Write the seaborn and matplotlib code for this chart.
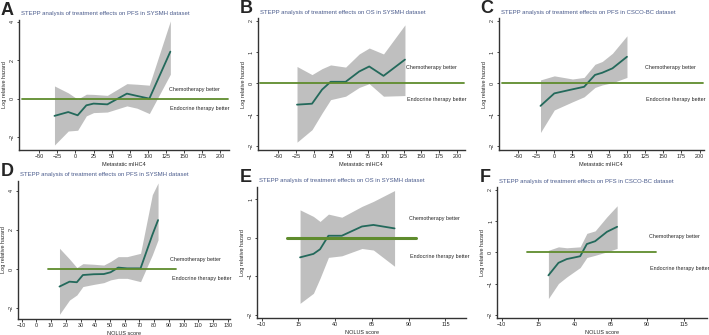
import numpy as np
import pandas as pd
import matplotlib
matplotlib.use("Agg")
import matplotlib.pyplot as plt
import seaborn as sns

# ---- data ----
a_x = [-29, -10, 3, 15, 25, 44, 71, 85, 102, 131]
a_y = [-0.90, -0.70, -0.87, -0.35, -0.26, -0.30, 0.26, 0.14, 0.00, 2.45]
a_up = [0.66, 0.30, -0.03, 0.23, 0.22, 0.17, 0.78, 0.75, 0.70, 4.05]
a_lo = [-2.42, -1.69, -1.65, -0.90, -0.73, -0.70, -0.38, -0.50, -0.78, 1.27]

b_x = [-24, -3, 11, 23, 44, 63, 77, 97, 127]
b_y = [-0.68, -0.65, -0.20, 0.05, 0.05, 0.38, 0.54, 0.24, 0.76]
b_up = [0.54, 0.28, 0.47, 0.59, 0.52, 0.94, 1.13, 0.94, 1.87]
b_lo = [-1.88, -1.48, -0.95, -0.52, -0.41, -0.13, -0.01, -0.41, -0.39]

c_x = [-19, 0, 25, 41, 56, 66, 80, 100]
c_y = [-0.72, -0.32, -0.19, -0.11, 0.27, 0.34, 0.48, 0.85]
c_up = [0.11, 0.24, 0.14, 0.19, 0.61, 0.70, 0.96, 1.52]
c_lo = [-1.57, -0.85, -0.59, -0.43, -0.13, -0.05, 0.02, 0.19]

d_x = [15.7, 22.5, 27.5, 31.6, 39, 45.8, 50.4, 55.6, 61.7, 70.8, 78.8, 82.7]
d_y = [-0.90, -0.65, -0.68, -0.31, -0.27, -0.26, -0.17, 0.07, 0.03, 0.03, 1.74, 2.50]
d_up = [1.06, 0.51, 0.07, 0.27, 0.24, 0.20, 0.38, 0.63, 0.63, 0.80, 3.80, 4.40]
d_lo = [-2.32, -1.59, -1.33, -0.90, -0.79, -0.70, -0.56, -0.48, -0.48, -0.65, 0.72, 1.49]

e_x = [16.1, 25.2, 29.7, 35.4, 44.5, 58.2, 66, 80.4]
e_y = [-0.51, -0.42, -0.30, 0.05, 0.05, 0.29, 0.33, 0.24]
e_up = [0.72, 0.55, 0.42, 0.61, 0.53, 0.81, 0.94, 1.22]
e_lo = [-1.70, -1.44, -1.05, -0.51, -0.47, -0.28, -0.32, -0.74]

f_x = [22.1, 29, 34.7, 43.9, 48.5, 54.2, 62.3, 69.3]
f_y = [-0.73, -0.33, -0.21, -0.12, 0.27, 0.36, 0.66, 0.82]
f_up = [0.07, 0.18, 0.15, 0.18, 0.61, 0.69, 1.14, 1.49]
f_lo = [-1.47, -0.99, -0.78, -0.48, -0.16, -0.09, 0.02, 0.13]

titles = [
    "STEPP analysis of treatment effects on PFS in SYSMH dataset",
    "STEPP analysis of treatment effects on OS in SYSMH dataset",
    "STEPP analysis of treatment effects on PFS in CSCO-BC dataset",
    "STEPP analysis of treatment effects on PFS in SYSMH dataset",
    "STEPP analysis of treatment effects on OS in SYSMH dataset",
    "STEPP analysis of treatment effects on PFS in CSCO-BC dataset",
]
letters = ["A", "B", "C", "D", "E", "F"]
xlabels = ["Metastatic mIHC4"] * 3 + ["NOLUS score"] * 3
ref_span = [(-74, 211), (-76, 210), (-72, 205), (8, 95), (7, 95), (7.2, 96.2)]
text_x = [129, 129, 125, 91, 90, 91]

sns.set_style("ticks")
plt.rcParams['font.family'] = ['Liberation Sans', 'DejaVu Sans']

W, H = 709, 335
fig = plt.figure(figsize=(W / 100, H / 100), dpi=100)

# axes boxes in pixels: left, top, right, bottom
boxes = [(19, 20, 229, 150), (257.7, 18.3, 465, 150), (498.7, 18.3, 704, 150),
         (18.3, 181, 230, 319), (257.3, 186.7, 466, 318), (497.3, 187.3, 707, 318.3)]
xlims = [(-78, 212), (-79, 211), (-76.5, 206), (-12.3, 131.6), (-13, 129), (-13, 131)]
ylims = [(-2.68, 4.1), (-2.13, 2.08), (-2.13, 2.08), (-2.56, 4.5), (-2.08, 1.32), (-2.1, 2.08)]
xticks = [np.arange(-50, 201, 25)] * 3 + [np.arange(-10, 131, 10), np.arange(-10, 116, 25), np.arange(-10, 116, 25)]
yticks = [[-2, 0, 2, 4], [-2, -1, 0, 1, 2], [-2, -1, 0, 1, 2], [-2, 0, 2, 4], [-2, -1, 0, 1], [-2, -1, 0, 1, 2]]

panels = [(a_x, a_y, a_up, a_lo), (b_x, b_y, b_up, b_lo), (c_x, c_y, c_up, c_lo),
          (d_x, d_y, d_up, d_lo), (e_x, e_y, e_up, e_lo), (f_x, f_y, f_up, f_lo)]

for i, (xs, ys, up, lo) in enumerate(panels):
    l, t, r, b = boxes[i]
    ax = fig.add_axes([l / W, 1 - b / H, (r - l) / W, (b - t) / H])
    df = pd.DataFrame({"score": xs, "est": ys, "up": up, "lo": lo})
    ax.fill_between(df["score"], df["lo"], df["up"], color="#bfbfbf", lw=0)
    sns.lineplot(data=df, x="score", y="est", ax=ax, color="#23695b", lw=1.3)
    ax.plot(ref_span[i], [0, 0], color="#5f8c2d", lw=2.2 if i == 4 else 1.3)
    ax.text(text_x[i], 0.5, "Chemotherapy better", fontsize=3.9, va="center", ha="left")
    ax.text(text_x[i] + 1, -0.5, "Endocrine therapy better", fontsize=3.9, va="center", ha="left")
    ax.set_xlim(*xlims[i])
    ax.set_ylim(*ylims[i])
    ax.set_xticks(xticks[i])
    ax.set_yticks(yticks[i])
    ax.tick_params(labelsize=3.9, length=1.8, width=0.6, pad=1.2, colors="#222222")
    for lab in ax.get_yticklabels():
        lab.set_rotation(90)
        lab.set_va("center")
    ax.set_xlabel(xlabels[i], fontsize=4.0, labelpad=2)
    ax.set_ylabel("Log relative hazard", fontsize=4.0, labelpad=2)
    sns.despine(ax=ax)
    for s in ["left", "bottom"]:
        ax.spines[s].set_linewidth(1.0)
        ax.spines[s].set_color("#333333")
    ax.set_facecolor("white")
    fig.text((l + 2) / W, 1 - (t - 6) / H, titles[i], fontsize=4.3, color="#4a5b8c",
             ha="left", va="center")
    fig.text((l - 18) / W, 1 - (t - 9.5) / H, letters[i], fontsize=13, fontweight="bold",
             ha="left", va="center")

fig.savefig("out.png", dpi=100, facecolor="white")
